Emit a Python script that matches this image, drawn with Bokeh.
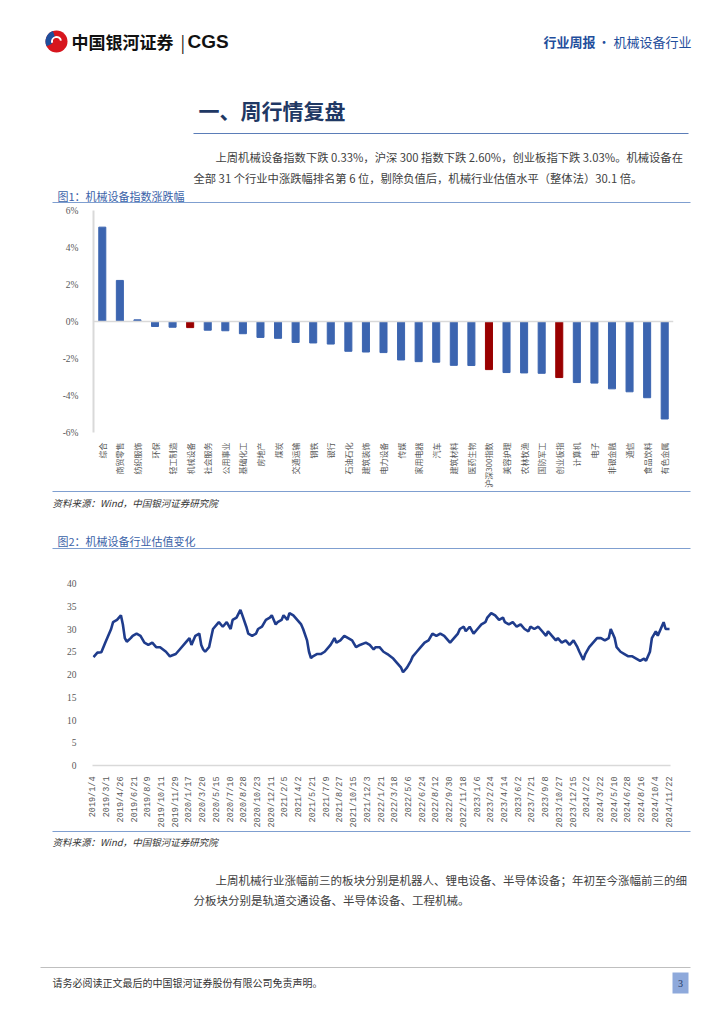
import math
from bokeh.plotting import figure
from bokeh.models import Range1d, FactorRange, FixedTicker, Span
from bokeh.embed import file_html
from bokeh.resources import INLINE
from bokeh.core.properties import value

W = 724
CJK = "Noto Sans CJK SC"
SERIF = "Liberation Serif"

# ---------------- data ----------------
industries = ["综合", "商贸零售", "纺织服饰", "环保", "轻工制造", "机械设备", "社会服务",
              "公用事业", "基础化工", "房地产", "煤炭", "交通运输", "钢铁", "银行",
              "石油石化", "建筑装饰", "电力设备", "传媒", "家用电器", "汽车", "建筑材料",
              "医药生物", "沪深300指数", "美容护理", "农林牧渔", "国防军工", "创业板指",
              "计算机", "电子", "非银金融", "通信", "食品饮料", "有色金属"]
changes = [5.10, 2.22, 0.09, -0.27, -0.31, -0.33, -0.47, -0.50, -0.66, -0.86, -0.91,
           -1.13, -1.16, -1.22, -1.61, -1.65, -1.68, -2.08, -2.17, -2.20, -2.37, -2.38,
           -2.60, -2.76, -2.78, -2.80, -3.03, -3.30, -3.33, -3.64, -3.80, -4.12, -5.27]
highlight = ["机械设备", "沪深300指数", "创业板指"]
pct_ticks = [-6, -4, -2, 0, 2, 4, 6]

date_labels = ["2019/1/4", "2019/3/1", "2019/4/26", "2019/6/21", "2019/8/9", "2019/10/11",
               "2019/11/29", "2020/1/17", "2020/3/20", "2020/5/15", "2020/7/10", "2020/8/28",
               "2020/10/23", "2020/12/11", "2021/2/5", "2021/4/2", "2021/5/21", "2021/7/9",
               "2021/8/27", "2021/10/15", "2021/12/3", "2022/1/21", "2022/3/18", "2022/5/6",
               "2022/6/24", "2022/8/12", "2022/9/30", "2022/11/18", "2023/1/6", "2023/2/24",
               "2023/4/14", "2023/6/2", "2023/7/21", "2023/9/8", "2023/10/27", "2023/12/15",
               "2024/2/2", "2024/3/22", "2024/5/10", "2024/6/28", "2024/8/16", "2024/10/4",
               "2024/11/22"]
label_step = 7
pe_week = [0, 2, 4, 6, 9, 10, 12, 14, 15, 16, 17, 19, 20, 22, 24, 26, 28, 30, 32, 34, 37,
           39, 42, 44, 47, 49, 50, 52, 54, 55, 56, 57, 59, 60, 61, 63, 64, 66, 68, 70, 71,
           73, 75, 76, 78, 79, 81, 83, 84, 86, 88, 90, 91, 93, 94, 96, 97, 99, 100, 102,
           104, 106, 107, 109, 110, 111, 112, 114, 116, 118, 121, 123, 124, 126, 128, 130,
           132, 134, 136, 139, 141, 143, 144, 146, 148, 150, 153, 155, 157, 158, 160, 162,
           163, 165, 167, 169, 171, 173, 175, 177, 179, 181, 182, 184, 186, 187, 189, 190,
           192, 194, 196, 198, 200, 201, 203, 205, 207, 209, 210, 212, 214, 216, 218, 220,
           222, 223, 225, 227, 229, 231, 232, 234, 236, 237, 239, 241, 243, 245, 247, 248,
           250, 251, 253, 255, 257, 259, 261, 263, 264, 266, 267, 269, 271, 273, 275, 277,
           279, 281, 282, 284, 285, 287, 288, 290, 291, 292, 294]
pe_value = [23.8, 24.8, 24.9, 27.0, 30.0, 31.5, 32.0, 33.0, 31.0, 28.0, 27.2, 28.0, 28.5,
            29.0, 28.5, 27.0, 26.5, 27.0, 26.0, 26.0, 25.0, 24.0, 24.5, 25.5, 27.0, 28.0,
            26.5, 28.5, 29.0, 26.5, 25.5, 25.0, 26.0, 28.0, 30.0, 31.0, 31.5, 30.5, 31.5,
            30.0, 32.0, 32.5, 34.2, 33.0, 30.5, 29.0, 28.5, 29.0, 30.0, 30.5, 32.0, 32.5,
            33.0, 31.0, 31.5, 32.0, 33.0, 32.0, 33.5, 33.0, 32.0, 31.0, 30.0, 27.5, 25.0,
            23.6, 24.0, 24.5, 24.5, 25.0, 26.5, 28.0, 27.0, 27.5, 28.5, 28.0, 27.5, 26.0,
            26.5, 27.0, 26.5, 25.5, 26.0, 26.0, 25.0, 24.5, 23.5, 22.5, 21.5, 20.5, 21.5,
            23.0, 24.0, 25.0, 26.0, 27.0, 27.5, 29.0, 28.5, 29.0, 28.5, 27.5, 27.0, 28.0,
            29.0, 30.0, 30.5, 29.5, 30.5, 29.0, 30.0, 31.0, 31.5, 32.5, 33.5, 33.0, 32.0,
            32.5, 31.5, 31.0, 31.5, 30.5, 31.0, 30.0, 29.5, 30.5, 30.0, 30.5, 29.5, 28.5,
            29.5, 28.5, 27.5, 28.0, 27.0, 27.5, 26.5, 27.5, 26.0, 25.0, 23.2, 24.5, 26.0,
            27.0, 28.0, 28.0, 27.5, 28.0, 30.0, 28.0, 26.0, 25.0, 24.5, 24.0, 24.0, 23.5,
            23.0, 23.5, 23.0, 25.0, 28.0, 29.5, 28.5, 30.5, 31.5, 30.0, 30.0]
pe_ticks = [0, 5, 10, 15, 20, 25, 30, 35, 40]

# ---------------- helpers ----------------
def blank(top, bottom):
    p = figure(width=W, height=bottom - top, x_range=Range1d(0, W),
               y_range=Range1d(bottom, top), output_backend="svg", toolbar_location=None,
               min_border=0, x_axis_location=None, y_axis_location=None)
    p.grid.visible = False
    p.outline_line_color = None
    p.background_fill_color = "white"
    p.border_fill_color = "white"
    return p


def txt(p, x, y, s, size, color, align="left", style="normal", font=CJK):
    p.text(x=[x], y=[y], text=[s], text_font=value(font), text_font_size=f"{size}px",
           text_color=color, text_align=align, text_baseline="middle",
           text_font_style=style)


def hline(p, x0, x1, y, color, w=1.0):
    p.segment(x0=[x0], y0=[y], x1=[x1], y1=[y], line_color=color, line_width=w)


TITLE_BLUE = "#3a62a8"
RULE_BLUE = "#7f9fd0"
BODY = "#404040"

# ---------------- top section ----------------
top = blank(0, 203)
top.circle(x=[56], y=[41], radius=11, fill_color="#d7161e", line_color=None)
top.annular_wedge(x=[56], y=[41], inner_radius=5, outer_radius=11, start_angle=1.9,
                  end_angle=3.6, fill_color="#1f4e9c", line_color=None)
top.annular_wedge(x=[56], y=[41], inner_radius=3.5, outer_radius=5.5, start_angle=0.2,
                  end_angle=3.4, fill_color="white", line_color=None)
txt(top, 71, 41, "中国银河证券", 17, "#111111", style="bold")
txt(top, 180, 41, "|", 17, "#111111")
txt(top, 187, 41, "CGS", 19, "#111111", style="bold", font="Liberation Sans")
txt(top, 543, 41, "行业周报", 13, "#1f4e9c", style="bold")
txt(top, 597, 41, "· 机械设备行业", 13, "#1f4e9c")
txt(top, 198, 109, "一、周行情复盘", 21, "#1f3864", style="bold")
hline(top, 193, 688, 133, "#5b7db8", 1.2)
txt(top, 215, 156, "上周机械设备指数下跌 0.33%，沪深 300 指数下跌 2.60%，创业板指下跌 3.03%。机械设备在",
    11.3, BODY)
txt(top, 193, 177, "全部 31 个行业中涨跌幅排名第 6 位，剔除负值后，机械行业估值水平（整体法）30.1 倍。",
    11.3, BODY)
txt(top, 57, 195, "图1：机械设备指数涨跌幅", 11, TITLE_BLUE)
hline(top, 52, 690, 202, RULE_BLUE, 1.2)

# ---------------- chart 1 ----------------
colors = ["#990000" if n in highlight else "#3c65b0" for n in industries]
c1 = figure(width=W, height=287, x_range=FactorRange(factors=industries),
            y_range=Range1d(-6, 6), output_backend="svg", toolbar_location=None,
            min_border_top=7, min_border_bottom=56, min_border_left=93, min_border_right=51)
c1.vbar(x=industries, top=changes, width=0.4, fill_color=colors, line_color=colors)
c1.add_layout(Span(location=0, dimension="width", line_color="#d9d9d9", line_width=1.5))
c1.grid.visible = False
c1.outline_line_color = None
c1.yaxis.ticker = FixedTicker(ticks=pct_ticks)
c1.yaxis.major_label_overrides = {t: f"{t}%" for t in pct_ticks}
c1.yaxis.axis_line_color = "#d9d9d9"
c1.yaxis.axis_line_width = 2
c1.yaxis.major_tick_line_color = None
c1.yaxis.minor_tick_line_color = None
c1.yaxis.major_label_standoff = 9
c1.yaxis.major_label_text_font = SERIF
c1.yaxis.major_label_text_font_size = "9.5px"
c1.yaxis.major_label_text_color = "#595959"
c1.xaxis.axis_line_color = None
c1.xaxis.major_tick_line_color = None
c1.xaxis.major_label_orientation = math.pi / 2
c1.xaxis.major_label_standoff = 4
c1.xaxis.major_label_text_font = CJK
c1.xaxis.major_label_text_font_size = "8px"
c1.xaxis.major_label_text_color = "#595959"

# ---------------- middle section ----------------
mid = blank(490, 555)
hline(mid, 52, 690, 491, RULE_BLUE, 1.2)
txt(mid, 52, 502, "资料来源：Wind，中国银河证券研究院", 9.5, "#333333", style="italic")
txt(mid, 57, 540, "图2：机械设备行业估值变化", 11, TITLE_BLUE)
hline(mid, 52, 690, 548, RULE_BLUE, 1.2)

# ---------------- chart 2 ----------------
n_weeks = (len(date_labels) - 1) * label_step
c2 = figure(width=W, height=275, x_range=Range1d(-0.5, n_weeks + 0.5),
            y_range=Range1d(0, 40), output_backend="svg", toolbar_location=None,
            min_border_top=28, min_border_bottom=65, min_border_left=92, min_border_right=54)
c2.line(pe_week, pe_value, line_color="#1f3c8c", line_width=2.6)
c2.grid.visible = False
c2.outline_line_color = None
c2.yaxis.ticker = FixedTicker(ticks=pe_ticks)
c2.yaxis.axis_line_color = None
c2.yaxis.major_tick_line_color = None
c2.yaxis.minor_tick_line_color = None
c2.yaxis.major_label_standoff = 10
c2.yaxis.major_label_text_font = SERIF
c2.yaxis.major_label_text_font_size = "9.5px"
c2.yaxis.major_label_text_color = "#595959"
xt = [i * label_step for i in range(len(date_labels))]
c2.xaxis.ticker = FixedTicker(ticks=xt)
c2.xaxis.major_label_overrides = {t: s for t, s in zip(xt, date_labels)}
c2.xaxis.axis_line_color = "#d9d9d9"
c2.xaxis.axis_line_width = 1.5
c2.xaxis.major_tick_line_color = None
c2.xaxis.minor_tick_line_color = None
c2.xaxis.major_label_orientation = math.pi / 2
c2.xaxis.major_label_standoff = 5
c2.xaxis.major_label_text_font = "Liberation Mono"
c2.xaxis.major_label_text_font_size = "8.5px"
c2.xaxis.major_label_text_color = "#595959"

# ---------------- bottom section ----------------
bot = blank(830, 1020)
hline(bot, 52, 690, 831, RULE_BLUE, 1.2)
txt(bot, 52, 841, "资料来源：Wind，中国银河证券研究院", 9.5, "#333333", style="italic")
txt(bot, 215, 879, "上周机械行业涨幅前三的板块分别是机器人、锂电设备、半导体设备；年初至今涨幅前三的细",
    11.5, BODY)
txt(bot, 193, 899, "分板块分别是轨道交通设备、半导体设备、工程机械。", 11.5, BODY)
hline(bot, 40, 690, 967, "#bfbfbf", 1)
txt(bot, 52, 982, "请务必阅读正文最后的中国银河证券股份有限公司免责声明。", 10, "#333333")
bot.quad(left=[672], right=[688], top=[972], bottom=[993], fill_color="#8ea9db",
         line_color=None)
txt(bot, 680, 982.5, "3", 10, "#1f3864", align="center", font=SERIF)

open("out.html", "w").write(file_html([top, c1, mid, c2, bot], INLINE))
